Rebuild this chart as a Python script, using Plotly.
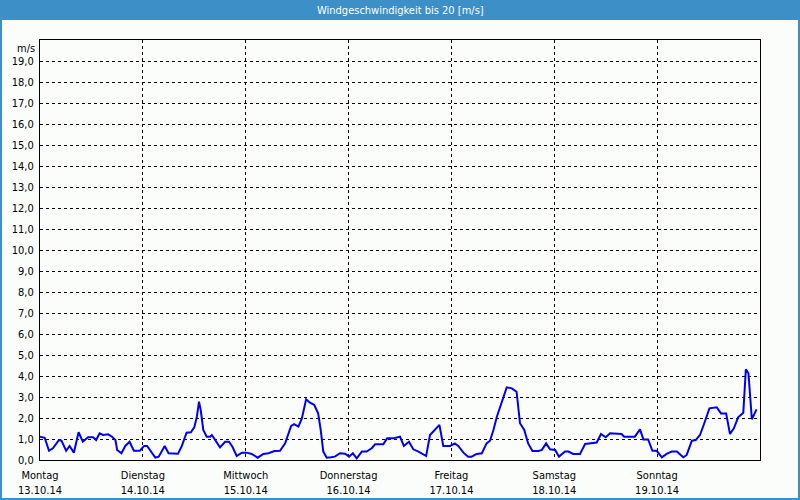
import plotly.graph_objects as go

# Hours since Mon 13.10.14 00:00
hours = [0.0, 1.1, 2.1, 3.0, 4.4, 5.0, 6.1, 6.9, 7.9, 9.0, 10.0, 11.2, 12.4, 13.1, 13.9, 14.7,
         15.9, 16.8, 17.6, 18.0, 19.0, 19.9, 20.9, 21.9, 23.3, 24.3, 25.0, 26.0, 26.9, 27.7,
         29.1, 30.0, 31.4, 32.2, 33.1, 33.8, 34.2, 35.2, 36.0, 36.6, 37.1, 37.5, 38.1, 38.9,
         39.7, 40.1, 40.8, 42.0, 43.2, 44.1, 44.9, 45.9, 47.1, 48.2, 49.4, 50.8, 52.1, 53.3,
         54.7, 56.0, 57.2, 58.6, 59.3, 60.3, 61.1, 62.1, 63.0, 64.0, 64.9, 65.5, 66.1, 66.9,
         67.9, 68.8, 70.0, 71.2, 72.1, 73.0, 73.9, 75.1, 76.2, 77.4, 78.2, 80.1, 81.0, 82.4,
         84.0, 84.9, 86.1, 87.1, 88.3, 90.1, 91.0, 92.2, 93.2, 94.1, 95.7, 96.8, 97.6, 98.8,
         99.9, 100.7, 101.9, 103.1, 104.2, 105.0, 105.8, 106.6, 107.6, 108.9, 110.1, 111.2,
         112.0, 113.0, 113.9, 114.9, 116.3, 117.1, 118.1, 119.0, 120.2, 121.1, 122.5, 123.3,
         124.4, 126.0, 127.2, 128.3, 129.9, 130.9, 132.0, 133.0, 134.9, 135.7, 136.3, 138.8,
         140.0, 140.8, 141.9, 142.9, 143.9, 145.1, 146.2, 147.4, 148.6, 150.1, 150.9, 152.1,
         153.0, 154.0, 155.0, 156.2, 157.9, 158.9, 160.1, 161.0, 161.9, 162.9, 164.1, 164.7,
         165.3, 165.7, 166.1, 167.2]
speed = [1.11, 1.06, 0.44, 0.56, 0.95, 0.92, 0.44, 0.67, 0.35, 1.32, 0.87, 1.08, 1.08, 0.95,
         1.27, 1.19, 1.22, 1.11, 0.95, 0.48, 0.32, 0.67, 0.87, 0.44, 0.44, 0.67, 0.67, 0.35,
         0.11, 0.16, 0.67, 0.32, 0.30, 0.30, 0.67, 1.03, 1.30, 1.32, 1.56, 2.06, 2.78, 2.38,
         1.43, 1.11, 1.11, 1.19, 0.95, 0.60, 0.87, 0.87, 0.63, 0.19, 0.35, 0.35, 0.29, 0.11,
         0.29, 0.32, 0.43, 0.44, 0.79, 1.62, 1.71, 1.59, 1.98, 2.89, 2.73, 2.62, 2.22, 1.43,
         0.40, 0.11, 0.13, 0.16, 0.32, 0.30, 0.16, 0.32, 0.08, 0.40, 0.40, 0.56, 0.75, 0.75,
         1.03, 1.03, 1.11, 0.67, 0.87, 0.51, 0.40, 0.19, 1.19, 1.43, 1.67, 0.67, 0.67, 0.79,
         0.67, 0.35, 0.16, 0.16, 0.29, 0.32, 0.79, 0.92, 1.43, 2.06, 2.70, 3.46, 3.41, 3.25,
         1.75, 1.43, 0.79, 0.43, 0.43, 0.48, 0.79, 0.51, 0.48, 0.16, 0.40, 0.40, 0.29, 0.29,
         0.76, 0.79, 0.83, 1.24, 1.08, 1.27, 1.27, 1.24, 1.11, 1.11, 1.46, 0.98, 0.98, 0.44,
         0.44, 0.13, 0.29, 0.40, 0.40, 0.13, 0.24, 0.92, 0.95, 1.19, 1.75, 2.46, 2.51, 2.22,
         2.22, 1.24, 1.51, 2.03, 2.25, 4.32, 4.13, 3.10, 1.94, 2.41]

day_ticks = [0, 24, 48, 72, 96, 120, 144]
day_names = ["Montag", "Dienstag", "Mittwoch", "Donnerstag", "Freitag", "Samstag", "Sonntag"]
day_dates = ["13.10.14", "14.10.14", "15.10.14", "16.10.14", "17.10.14", "18.10.14", "19.10.14"]
y_ticks = list(range(0, 20))

title_text = "Windgeschwindigkeit bis 20 [m/s]"
unit_text = "m/s"

W, H = 800, 500
L, R, T, B = 40, 40, 40, 40
PW, PH = W - L - R, H - T - B


def px_x(x):
    return (x - L) / PW


def px_y(y):
    return (H - B - y) / PH


FONT = "DejaVu Sans Condensed, Liberation Sans, sans-serif"
BAR = "#3d8fc8"

fig = go.Figure()
fig.add_trace(go.Scatter(x=hours, y=speed, mode="lines",
                         line=dict(color="#0000ee", width=2), hoverinfo="skip"))

fig.update_layout(
    width=W, height=H,
    margin=dict(l=L, r=R, t=T, b=B, autoexpand=False),
    paper_bgcolor="#fbfdfb", plot_bgcolor="#fbfdfb",
    separators=",.",
    showlegend=False,
    font=dict(family=FONT, size=11, color="black"),
    xaxis=dict(range=[0, 168], tickvals=day_ticks,
               ticktext=[f"{n}<br>{d}" for n, d in zip(day_names, day_dates)],
               showgrid=True, gridcolor="black", griddash="3px,3px", gridwidth=1,
               showline=True, linecolor="black", linewidth=1, mirror=True,
               ticks="", ticklabelstandoff=5, automargin=False,
               zeroline=False, fixedrange=True),
    yaxis=dict(range=[0, 20], tickvals=y_ticks, tickformat=".1f",
               showgrid=True, gridcolor="black", griddash="3px,3px", gridwidth=1,
               showline=True, linecolor="black", linewidth=1, mirror=True,
               ticks="", ticklabelstandoff=3, automargin=False,
               zeroline=False, fixedrange=True),
    shapes=[
        dict(type="rect", xref="paper", yref="paper",
             x0=px_x(0), x1=px_x(W), y0=px_y(20), y1=px_y(0),
             fillcolor=BAR, line=dict(width=0), layer="above"),
        dict(type="rect", xref="paper", yref="paper",
             x0=px_x(1), x1=px_x(W - 1), y0=px_y(H - 1), y1=px_y(1),
             fillcolor="rgba(0,0,0,0)", line=dict(color=BAR, width=2), layer="above"),
    ],
    annotations=[
        dict(text=title_text, xref="paper", yref="paper", x=px_x(W / 2), y=px_y(10),
             xanchor="center", yanchor="middle", showarrow=False,
             font=dict(family=FONT, size=11, color="white")),
        dict(text=unit_text, xref="paper", yref="paper", x=0, y=1,
             xanchor="right", yanchor="top", xshift=-3, showarrow=False,
             font=dict(family=FONT, size=11, color="black")),
    ],
)

fig.write_html("out.html")
